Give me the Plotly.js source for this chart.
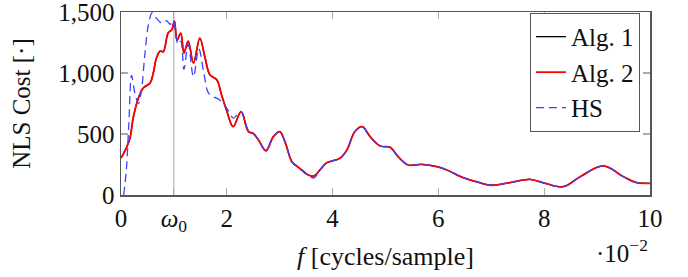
<!DOCTYPE html>
<html>
<head>
<meta charset="utf-8">
<script src="https://cdn.plot.ly/plotly-3.0.1.min.js"></script>
<style>html,body{margin:0;padding:0;background:#fff}#c{width:688px;height:277px}</style>
</head>
<body>
<div id="c"></div>
<script>
// frequency in units of 1e-2 cycles/sample
const algX = [0,0.1,0.17,0.23,0.33,0.42,0.55,0.61,0.67,0.74,0.8,0.89,0.96,1.01,1.06,1.13,1.19,1.27,1.37,1.49,1.59,1.68,1.81,1.9,2.0,2.12,2.27,2.41,2.5,2.6,2.74,2.88,3.0,3.1,3.23,3.32,3.42,3.54,3.65,3.76,3.89,4.01,4.14,4.27,4.42,4.56,4.71,4.9,5.09,5.24,5.43,5.68,5.97,6.16,6.47,6.72,7.0,7.35,7.73,8.02,8.36,8.68,9.12,9.5,9.75,10];
const alg1Y = [303,385,467,631,795,877,918,1000,1123,1180,1175,1328,1355,1426,1270,1328,1164,1262,1082,1287,1123,986,945,822,689,560,683,519,505,451,363,478,519,437,273,238,205,164,156,205,265,281,301,369,519,560,478,402,391,314,246,251,232,205,142,109,80,101,128,96,68,150,238,150,101,96];
const alg2Y = [303,385,467,631,795,877,918,1000,1123,1180,1175,1328,1355,1426,1270,1328,1164,1262,1082,1287,1123,986,945,822,689,560,683,519,505,451,363,478,519,437,273,238,205,164,156,205,265,281,301,369,519,560,478,402,391,314,246,251,232,205,142,109,80,101,128,96,68,150,238,150,101,96];
const hsX = [0.05,0.1,0.15,0.2,0.26,0.33,0.39,0.45,0.52,0.59,0.67,0.77,0.86,0.93,0.99,1.04,1.08,1.13,1.19,1.27,1.37,1.47,1.57,1.65,1.75,1.85,1.95,2.05,2.12,2.2,2.27,2.41,2.5,2.6,2.74,2.88,3.0,3.1,3.23,3.32,3.42,3.54,3.65,3.76,3.89,4.01,4.14,4.27,4.42,4.56,4.71,4.9,5.09,5.24,5.43,5.68,5.97,6.16,6.47,6.72,7.0,7.35,7.73,8.02,8.36,8.68,9.12,9.5,9.75,10];
const hsY = [0,200,600,980,840,750,870,1150,1400,1495,1450,1410,1430,1400,1430,1300,1235,1260,1030,1235,970,1200,990,840,805,785,740,680,630,660,683,530,505,451,363,478,519,437,273,238,200,160,140,205,265,281,301,369,519,560,478,402,391,314,246,251,232,205,142,109,80,101,128,96,68,150,238,150,101,96];
const xTickVals = [0,1,2,4,6,8,10];
const xTickText = ['0','<i>ω</i><sub>0</sub>','2','4','6','8','10'];
const yTickVals = [0,500,1000,1500];
const yTickText = ['0','500','1,000','1,500'];
const omega0 = 1;

const font = "'Liberation Serif', serif";
const traces = [
  {x: algX, y: alg1Y, name: 'Alg. 1', mode: 'lines', line: {color: '#000000', width: 1.3, shape: 'spline', smoothing: 1}},
  {x: algX, y: alg2Y, name: 'Alg. 2', mode: 'lines', line: {color: '#ff0000', width: 1.8, shape: 'spline', smoothing: 1}},
  {x: hsX, y: hsY, name: 'HS', mode: 'lines', line: {color: '#4040ff', width: 1.3, dash: '8px,5px', shape: 'spline', smoothing: 1}}
];
const axisCommon = {
  showgrid: false, zeroline: false, showline: true, linecolor: '#555555', linewidth: 1.5,
  mirror: 'ticks', ticks: 'inside', ticklen: 7, tickwidth: 1.2, tickcolor: '#aaaaaa',
  ticklabeloverflow: 'allow',
  tickfont: {family: font, size: 25, color: '#111'}
};
const layout = {
  width: 688, height: 277,
  margin: {l: 121, r: 38, t: 12, b: 82},
  paper_bgcolor: '#fff', plot_bgcolor: '#fff',
  showlegend: true,
  xaxis: Object.assign({}, axisCommon, {range: [0, 10.001], tickvals: xTickVals, ticktext: xTickText,
    title: {text: '<i>f</i> [cycles/sample]', font: {family: font, size: 26, color: '#111'}, standoff: 12}}),
  yaxis: Object.assign({}, axisCommon, {range: [0, 1500.5], tickvals: yTickVals, ticktext: yTickText,
    title: {text: 'NLS Cost [·]', font: {family: font, size: 25, color: '#111'}, standoff: 20}}),
  legend: {x: 0.981, y: 0.995, xanchor: 'right', yanchor: 'top', bgcolor: '#fff', bordercolor: '#555', borderwidth: 1,
    font: {family: font, size: 25, color: '#111'}, tracegroupgap: 0},
  shapes: [{type: 'line', xref: 'x', yref: 'paper', x0: omega0, x1: omega0, y0: 0, y1: 1, line: {color: '#aaaaaa', width: 1}, layer: 'below'}],
  annotations: [{xref: 'paper', yref: 'paper', x: 1.0, y: -0.21, xanchor: 'right', yanchor: 'top', showarrow: false,
    text: '·10<sup>−2</sup>', font: {family: font, size: 25, color: '#111'}}]
};
Plotly.newPlot('c', traces, layout, {displayModeBar: false, staticPlot: true});
</script>
</body>
</html>
